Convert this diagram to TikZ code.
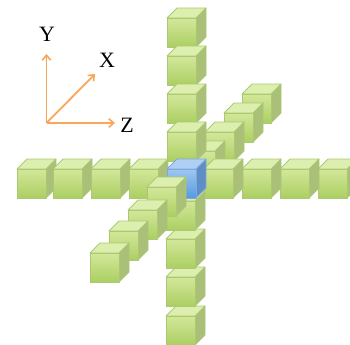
\documentclass[tikz,border=0pt]{standalone}
\usepackage{fontspec}
\setmainfont{Liberation Serif}
\usetikzlibrary{arrows.meta}
\definecolor{gedge}{HTML}{ABC972}
\definecolor{gtop}{HTML}{DDEFAE}
\definecolor{gftop}{HTML}{D3E79A}
\definecolor{gfbot}{HTML}{ABCF62}
\definecolor{gside}{HTML}{AABF78}
\definecolor{bedge}{HTML}{7FA9DC}
\definecolor{btop}{HTML}{AFCFF5}
\definecolor{bftop}{HTML}{9FC6F1}
\definecolor{bfbot}{HTML}{559BE0}
\definecolor{bside}{HTML}{5F8EC6}
\definecolor{axiscol}{HTML}{F9A65A}
\tikzset{
  x=1bp,y=-1bp,
  axisline/.style={draw=axiscol,line width=1.8bp,-{Straight Barb[length=5bp,width=8.5bp,line width=1.6bp]}},
  axislabel/.style={font=\fontsize{22}{22}\selectfont,inner sep=0pt,text=black},
  edgeline/.style={line width=0.8bp,line join=round}
}
% #1 x of front left, #2 y of front top
\newcommand{\gcube}[2]{%
  \fill[gside,edgeline,draw=gedge] (#1+29,#2) -- ++(10,-10) -- ++(0,29) -- ++(-10,10) -- cycle;
  \fill[gtop,edgeline,draw=gedge] (#1,#2) -- ++(10,-10) -- ++(29,0) -- ++(-10,10) -- cycle;
  \shade[top color=gftop,bottom color=gfbot,edgeline,draw=gedge] (#1,#2) rectangle ++(29,29);
}
\newcommand{\bcube}[2]{%
  \fill[bside,edgeline,draw=bedge] (#1+29,#2) -- ++(10,-10) -- ++(0,29) -- ++(-10,10) -- cycle;
  \fill[btop,edgeline,draw=bedge] (#1,#2) -- ++(10,-10) -- ++(29,0) -- ++(-10,10) -- cycle;
  \shade[top color=bftop,bottom color=bfbot,edgeline,draw=bedge] (#1,#2) rectangle ++(29,29);
}
\begin{document}
\begin{tikzpicture}
\useasboundingbox (0,0) rectangle (350,345);
\clip (0,0) rectangle (350,345);
% back diagonal
\gcube{242}{94}
\gcube{224}{113}
\gcube{205}{132}
\gcube{186}{151}
% row
\gcube{17}{169}
\gcube{53}{169}
\gcube{91}{169}
\gcube{129}{169}
\gcube{318}{169}
\gcube{280}{169}
\gcube{242}{169}
\gcube{204}{169}
% column
\gcube{167}{18}
\gcube{167}{56}
\gcube{167}{94}
\gcube{167}{132}
\gcube{166}{316}
\gcube{166}{277}
\gcube{166}{239}
\gcube{166}{201}
\bcube{167}{169}
% front diagonal
\gcube{147}{187}
\gcube{128}{210}
\gcube{109}{231}
\gcube{90}{253}
% axes
\coordinate (o) at (46.5,123);
\coordinate (ye) at (46.5,54);
\coordinate (xe) at (95,74);
\coordinate (ze) at (115,123);
\draw[axisline] (o) -- (ye);
\draw[axisline] (o) -- (xe);
\draw[axisline] (o) -- (ze);
\node[axislabel] (ly) at (47,34) {Y};
\node[axislabel] (lx) at (107,60) {X};
\node[axislabel] (lz) at (127,125) {Z};
\end{tikzpicture}
\end{document}
